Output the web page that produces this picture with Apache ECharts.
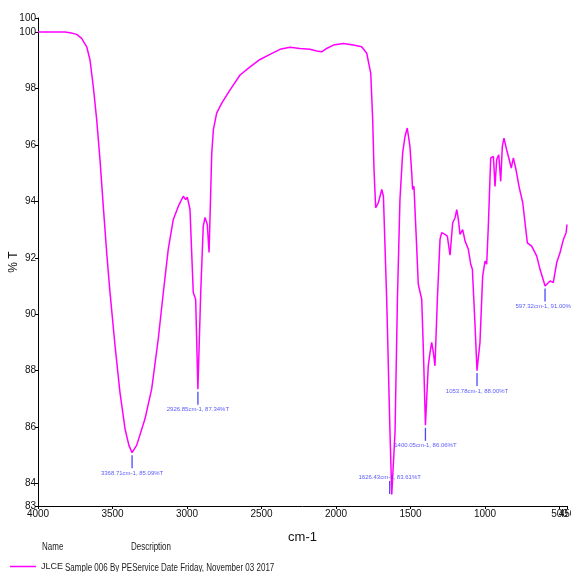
<!DOCTYPE html>
<html>
<head>
<meta charset="utf-8">
<script src="https://cdn.jsdelivr.net/npm/echarts@6/dist/echarts.min.js"></script>
<style>
    html, body { margin: 0; padding: 0; background: #fff; }
    #ir_spectrum { width: 571px; height: 572px; }
</style>
</head>
<body>
<div id="ir_spectrum"></div>
<script>
// Spectrum data (wavenumber cm-1, %T)
var waveNumbers = [4000, 3900, 3820, 3785, 3740, 3707, 3673, 3651, 3629, 3606, 3584, 3562, 3539, 3517, 3483, 3450, 3416, 3390, 3369, 3338, 3282, 3237, 3193, 3159, 3126, 3092, 3058, 3025, 3009, 2998, 2980, 2958, 2942, 2927, 2908, 2891, 2879, 2864, 2852, 2834, 2823, 2801, 2767, 2711, 2644, 2577, 2510, 2443, 2376, 2309, 2242, 2175, 2130, 2096, 2063, 2018, 1951, 1884, 1828, 1794, 1767, 1754, 1745, 1734, 1716, 1693, 1682, 1660, 1638, 1626, 1604, 1588, 1571, 1553, 1537, 1522, 1504, 1492, 1486, 1477, 1463, 1448, 1436, 1425, 1414, 1400, 1381, 1369, 1358, 1347, 1336, 1320, 1302, 1291, 1269, 1253, 1235, 1217, 1201, 1190, 1179, 1168, 1150, 1134, 1112, 1096, 1085, 1067, 1054, 1034, 1016, 1000, 989, 978, 962, 944, 933, 922, 908, 895, 884, 873, 855, 832, 824, 810, 792, 770, 747, 716, 687, 653, 631, 597, 564, 542, 519, 497, 474, 456, 450];
var transmittance = [100.0, 100.0, 100.0, 99.98, 99.92, 99.78, 99.48, 99.01, 98.07, 96.89, 95.48, 93.83, 92.18, 90.78, 88.88, 87.23, 85.94, 85.35, 85.09, 85.35, 86.29, 87.35, 89.12, 90.77, 92.30, 93.36, 93.83, 94.18, 94.06, 94.15, 93.71, 90.77, 90.53, 87.34, 90.78, 93.12, 93.43, 93.18, 92.19, 95.71, 96.54, 97.13, 97.48, 97.95, 98.48, 98.77, 99.03, 99.21, 99.39, 99.46, 99.42, 99.39, 99.33, 99.30, 99.42, 99.54, 99.60, 99.54, 99.48, 99.25, 98.54, 96.89, 95.12, 93.77, 93.95, 94.42, 94.18, 90.53, 85.83, 83.61, 85.83, 90.53, 94.06, 95.71, 96.30, 96.60, 95.95, 95.01, 94.42, 94.53, 92.89, 91.06, 91.12, 90.53, 88.76, 86.06, 88.17, 88.65, 89.00, 88.65, 88.17, 90.53, 92.66, 92.89, 92.83, 92.77, 92.09, 93.24, 93.42, 93.71, 93.36, 92.83, 93.00, 92.59, 92.30, 91.77, 91.59, 89.59, 88.00, 89.00, 91.35, 91.88, 91.77, 93.12, 95.54, 95.59, 94.53, 95.48, 95.65, 94.71, 95.95, 96.24, 95.83, 95.36, 95.18, 95.54, 95.12, 94.48, 93.95, 92.53, 92.41, 92.06, 91.59, 91.00, 91.18, 91.12, 91.83, 92.18, 92.65, 92.89, 93.18];

// Labelled peaks
var peakWave = [3368.71, 2926.85, 1626.43, 1400.05, 1053.78, 597.32];
var peakT = [85.09, 87.34, 83.61, 86.06, 88.00, 91.00];

// Axis ticks (the 450 end label sits on its own overlay axis)
var xTicks = [4000, 3500, 3000, 2500, 2000, 1500, 1000, 500];
var xEndTicks = [450];
var yTicks = [83.2, 84, 86, 88, 90, 92, 94, 96, 98, 100, 100.5];

var sampleName = 'JLCE';
var sampleDesc = 'Sample 006 By PEService Date Friday, November 03 2017';

var narrowFont = '"Liberation Sans Narrow", "Liberation Sans", Arial, sans-serif';

// Build series data
var spectrumData = waveNumbers.map(function (w, i) {
    return [w, transmittance[i]];
});
var peakData = peakWave.map(function (w, i) {
    var item = {
        value: [w, peakT[i]],
        label: {
            formatter: w.toFixed(2) + 'cm-1, ' + peakT[i].toFixed(2) + '%T'
        }
    };
    // lowest peak gets its label above
    if (w === 1626.43) {
        item.symbolOffset = [-2, -7];
        item.label.position = 'top';
        item.label.distance = 1;
    }
    return item;
});

// Shared x axis look
var xLabelStyle = {
    hideOverlap: false,
    showMinLabel: true,
    showMaxLabel: true,
    margin: 3,
    fontSize: 10,
    color: '#111',
    fontFamily: narrowFont,
    formatter: function (v) {
        return String(v);
    }
};

var spectrumOption = {
    animation: false,
    textStyle: {
        fontFamily: narrowFont
    },

    grid: {
        left: 38,
        right: 4,
        top: 18,
        bottom: 66,
        outerBoundsMode: 'none',
        containLabel: false
    },

    legend: {
        data: [sampleName],
        left: 5,
        top: 557,
        icon: 'rect',
        itemWidth: 26,
        itemHeight: 1.5,
        itemGap: 5,
        textStyle: {
            fontSize: 9,
            color: '#222',
            fontFamily: narrowFont
        }
    },

    xAxis: [
        {
            type: 'value',
            inverse: true,
            min: 450,
            max: 4000,
            name: 'cm-1',
            nameLocation: 'middle',
            nameGap: 25,
            nameMoveOverlap: false,
            nameTextStyle: {
                fontSize: 13,
                color: '#111',
                fontFamily: narrowFont
            },
            axisLine: { lineStyle: { color: '#000', width: 1 } },
            axisTick: { show: true, length: 3, customValues: xTicks, lineStyle: { color: '#000' } },
            axisLabel: Object.assign({ customValues: xTicks }, xLabelStyle),
            splitLine: { show: false }
        },
        {
            type: 'value',
            position: 'bottom',
            inverse: true,
            min: 450,
            max: 4000,
            axisLine: { show: false },
            axisTick: { show: true, length: 3, customValues: xEndTicks, lineStyle: { color: '#000' } },
            axisLabel: Object.assign({ customValues: xEndTicks }, xLabelStyle),
            splitLine: { show: false }
        }
    ],

    yAxis: {
        type: 'value',
        min: 83.2,
        max: 100.5,
        name: '% T',
        nameLocation: 'middle',
        nameGap: 18,
        nameMoveOverlap: false,
        nameTextStyle: {
            fontSize: 12,
            color: '#111',
            fontFamily: narrowFont
        },
        axisLine: { show: true, lineStyle: { color: '#000', width: 1 } },
        axisTick: { show: true, length: 3, customValues: yTicks, lineStyle: { color: '#000' } },
        axisLabel: {
            customValues: yTicks,
            hideOverlap: false,
            showMinLabel: true,
            showMaxLabel: true,
            margin: 2,
            fontSize: 10,
            color: '#111',
            fontFamily: narrowFont,
            formatter: function (v) {
                return String(Math.floor(v));
            }
        },
        splitLine: { show: false }
    },

    graphic: [
        { type: 'text', left: 42, top: 542, scaleX: 0.8, style: { text: 'Name', font: '10px ' + narrowFont, fill: '#222' } },
        { type: 'text', left: 131, top: 542, scaleX: 0.8, style: { text: 'Description', font: '10px ' + narrowFont, fill: '#222' } },
        { type: 'text', left: 65, top: 563, scaleX: 0.8, style: { text: sampleDesc, font: '10px ' + narrowFont, fill: '#222' } }
    ],

    series: [
        {
            name: sampleName,
            type: 'line',
            data: spectrumData,
            showSymbol: false,
            smooth: false,
            lineStyle: { color: '#ff00ff', width: 1.5 },
            itemStyle: { color: '#ff00ff' }
        },
        {
            name: 'peaks',
            type: 'scatter',
            data: peakData,
            symbol: 'rect',
            symbolSize: [1.3, 13],
            symbolOffset: [0, 9],
            itemStyle: { color: '#1a1aff' },
            label: {
                show: true,
                position: 'bottom',
                distance: 2,
                fontSize: 6,
                color: '#3030ff',
                fontFamily: narrowFont
            },
            z: 3
        }
    ]
};

// Initialize chart
document.addEventListener('DOMContentLoaded', function () {
    var spectrumChart = echarts.init(document.getElementById('ir_spectrum'));
    spectrumChart.setOption(spectrumOption);
});
</script>
</body>
</html>
